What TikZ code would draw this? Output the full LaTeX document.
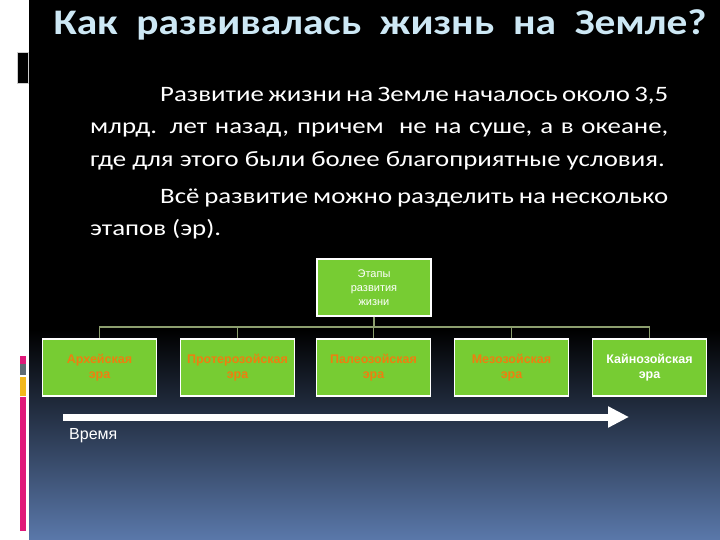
\documentclass[tikz,border=0pt]{standalone}
\usepackage{fontspec}
\setmainfont{Carlito}
\newfontfamily\arialfont{Liberation Sans}
\newfontfamily\titlefont[FakeStretch=1.15, WordSpace=2]{Carlito Bold}
\newfontfamily\bodyfont[FakeStretch=1.22]{Carlito}
\usetikzlibrary{arrows.meta}

\definecolor{titleblue}{HTML}{CDE8F5}
\definecolor{eragreen}{HTML}{77CC33}
\definecolor{eraorange}{HTML}{EE7E10}
\definecolor{linkgreen}{HTML}{8C9E6E}
\definecolor{deepblue}{HTML}{5A78AA}
\definecolor{barpink}{HTML}{E0197A}
\definecolor{bargray}{HTML}{5F6B73}
\definecolor{baryellow}{HTML}{F2B81C}

\begin{document}
\begin{tikzpicture}[x=1pt, y=-1pt,
    erabox/.style={draw=white, line width=1.6pt, fill=eragreen, minimum width=114pt,
        minimum height=57pt, align=center, inner sep=2pt,
        font=\arialfont\fontsize{12.5}{15}\selectfont\bfseries, text=eraorange},
    link/.style={draw=linkgreen, line width=1.2pt},
    timearrow/.style={draw=white, line width=7pt, -{Triangle[length=21pt, width=20pt]}}]
    \useasboundingbox (0,0) rectangle (720,540);

    % Sfondo
    \fill[white] (0,0) rectangle (29,540);
    \fill[black] (29,0) rectangle (720,540);
    \shade[top color=black, bottom color=deepblue] (29,330) rectangle (720,540);

    % Barre a sinistra
    \fill[black] (17,52) rectangle (28,83);
    \draw[gray!40, line width=0.4pt] (17,52) rectangle (28,83);
    \fill[barpink] (20,356) rectangle (26,364);
    \fill[bargray] (20,364) rectangle (26,375);
    \fill[baryellow] (20,377) rectangle (26,396);
    \fill[barpink] (20,397) rectangle (26,531);

    % Titolo
    \node[anchor=base, text=titleblue, font=\titlefont\fontsize{36}{40}\selectfont, inner sep=0pt]
        (title) at (380,35) {Как развивалась жизнь на Земле?};

    % Testo
    \node[anchor=north west, text=white, text width=578pt, align=justify, inner sep=0pt,
        font=\bodyfont\fontsize{22}{32.5}\selectfont] (intro) at (90,87)
        {\hspace*{70pt}Развитие жизни на Земле началось около 3,5\linebreak
        млрд. лет назад, причем \ не на суше, а в океане,\linebreak
        где для этого были более благоприятные условия.\par\vspace{4.5pt}
        \hspace*{70pt}Всё развитие можно разделить на несколько\linebreak
        этапов (эр).};

    % Schema delle ere
    \node[erabox, font=\arialfont\fontsize{11}{14}\selectfont, text=white]
        (stages) at (374,287.5) {Этапы\\развития\\жизни};
    \node[erabox] (archean) at (99.5,367.5) {Архейская\\эра};
    \node[erabox] (proterozoic) at (237.5,367.5) {Протерозойская\\эра};
    \node[erabox] (paleozoic) at (373.5,367.5) {Палеозойская\\эра};
    \node[erabox] (mesozoic) at (511.5,367.5) {Мезозойская\\эра};
    \node[erabox, text=white] (cenozoic) at (649.5,367.5) {Кайнозойская\\эра};

    % Collegamenti
    \coordinate (bus) at (374,327);
    \foreach \era in {archean, proterozoic, paleozoic, mesozoic, cenozoic}
        \draw[link] (stages.south) -- (stages.south |- bus) -| (\era.north);

    % Freccia del tempo
    \coordinate (timestart) at (63,417);
    \coordinate (timeend) at (629,417);
    \draw[timearrow] (timestart) -- (timeend);
    \node[anchor=west, text=white, font=\arialfont\fontsize{16}{18}\selectfont, inner sep=0pt]
        (timelabel) at (69,436) {Время};
\end{tikzpicture}
\end{document}
